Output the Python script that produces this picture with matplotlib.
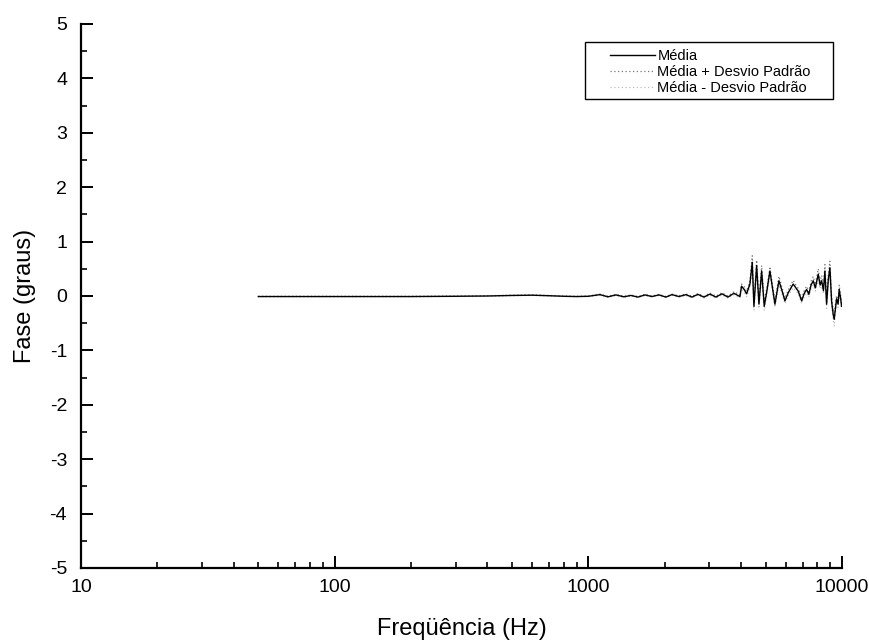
import numpy as np
import matplotlib
matplotlib.use('Agg')
import matplotlib.pyplot as plt
from matplotlib.patches import Rectangle
from matplotlib.ticker import LogLocator, MultipleLocator, NullFormatter, FixedLocator, FixedFormatter

plt.rcParams['font.family'] = ['Liberation Sans', 'DejaVu Sans']
plt.rcParams['axes.unicode_minus'] = False

# frequency points (Hz)
freq = [50, 70, 100, 150, 200, 300, 400, 500, 600, 700, 800, 900, 1000,
        1111, 1195, 1285, 1381, 1472, 1569, 1672, 1781, 1898, 2022, 2136,
        2276, 2425, 2561, 2704, 2856, 3015, 3184, 3362, 3551, 3749, 3959,
        4018, 4117, 4207, 4335, 4428, 4496, 4608, 4705, 4822, 4937, 5060,
        5198, 5320, 5440, 5641, 5800, 5957, 6138, 6421, 6600, 6721, 6932,
        7100, 7254, 7400, 7550, 7700, 7850, 8059, 8200, 8312, 8450, 8563,
        8696, 8830, 8960, 9100, 9232, 9316, 9521, 9650, 9749, 9880, 9963]

# mean phase (degrees)
media = [-0.01, -0.01, -0.01, -0.01, -0.01, -0.005, 0.0, 0.01, 0.015, 0.005, -0.005, -0.01, -0.005,
         0.025, -0.015, 0.02, -0.015, 0.01, -0.02, 0.02, -0.01, 0.02, -0.02, 0.025,
         -0.01, 0.025, -0.02, 0.03, -0.02, 0.035, -0.02, 0.04, -0.02, 0.05, -0.01,
         0.18, 0.12, 0.04, 0.22, 0.62, -0.19, 0.56, -0.15, 0.46, -0.19, 0.10,
         0.46, 0.15, -0.15, 0.28, 0.10, -0.09, 0.06, 0.22, 0.14, 0.09, -0.09,
         0.05, 0.12, 0.03, 0.20, 0.28, 0.15, 0.40, 0.20, 0.28, 0.10, 0.46,
         -0.15, 0.30, 0.52, -0.10, -0.34, -0.43, -0.05, -0.15, 0.12, -0.05, -0.19]

# standard deviation (degrees)
desvio = [0.005, 0.005, 0.005, 0.005, 0.005, 0.005, 0.005, 0.005, 0.005, 0.005, 0.005, 0.005, 0.005,
          0.01, 0.01, 0.01, 0.01, 0.01, 0.01, 0.01, 0.01, 0.01, 0.01, 0.01,
          0.015, 0.015, 0.015, 0.015, 0.015, 0.02, 0.02, 0.02, 0.02, 0.03, 0.03,
          0.04, 0.05, 0.05, 0.06, 0.12, 0.08, 0.10, 0.08, 0.10, 0.08, 0.06,
          0.08, 0.06, 0.06, 0.08, 0.06, 0.05, 0.05, 0.07, 0.05, 0.05, 0.05,
          0.05, 0.06, 0.05, 0.07, 0.08, 0.06, 0.10, 0.07, 0.10, 0.06, 0.12,
          0.08, 0.10, 0.12, 0.08, 0.10, 0.12, 0.06, 0.06, 0.08, 0.06, 0.06]

f = np.array(freq)
m = np.array(media)
s = np.array(desvio)

fig = plt.figure(figsize=(8.7, 6.4), dpi=100)
ax = fig.add_axes([81/870, 1-568/640, (842-81)/870, (568-24)/640])

ax.plot(f, m + s, color='#777777', lw=0.9, ls=(0, (1, 2)), label='Média + Desvio Padrão', zorder=2)
ax.plot(f, m - s, color='#bbbbbb', lw=0.9, ls=(0, (1, 2)), label='Média - Desvio Padrão', zorder=2)
ax.plot(f, m, color='black', lw=1.0, label='Média', zorder=3)

ax.set_xscale('log')
ax.set_xlim(10, 10000)
ax.set_ylim(-5, 5)

ax.xaxis.set_major_locator(FixedLocator([10, 100, 1000, 10000]))
ax.xaxis.set_major_formatter(FixedFormatter(['10', '100', '1000', '10000']))
ax.xaxis.set_minor_locator(LogLocator(base=10, subs=np.arange(2, 10)))
ax.xaxis.set_minor_formatter(NullFormatter())
ax.yaxis.set_major_locator(MultipleLocator(1))
ax.yaxis.set_minor_locator(MultipleLocator(0.5))

for side in ['top', 'right']:
    ax.spines[side].set_visible(False)
for side in ['left', 'bottom']:
    ax.spines[side].set_linewidth(1.6)

ax.tick_params(which='major', direction='in', length=8.5, width=1.4, labelsize=14, pad=8)
ax.tick_params(which='minor', direction='in', length=4.5, width=1.2)
ax.tick_params(axis='y', which='major', pad=10)

ax.set_xlabel('Freqüência (Hz)', fontsize=17, labelpad=16)
ax.set_ylabel('Fase (graus)', fontsize=17, labelpad=10)

handles, labels = ax.get_legend_handles_labels()
order = [2, 0, 1]
leg = ax.legend([handles[i] for i in order], [labels[i] for i in order],
                loc='upper left', bbox_to_anchor=(610/870, 1-49/640),
                bbox_transform=fig.transFigure, frameon=False, fontsize=10.5,
                borderpad=0, handlelength=3.1, handletextpad=0.15,
                labelspacing=0.15, borderaxespad=0)
fig.patches.append(Rectangle((585/870, 1-99/640), 248/870, 57/640,
                             transform=fig.transFigure, fill=False,
                             edgecolor='black', lw=1.0))

fig.savefig('out.png', dpi=100)
